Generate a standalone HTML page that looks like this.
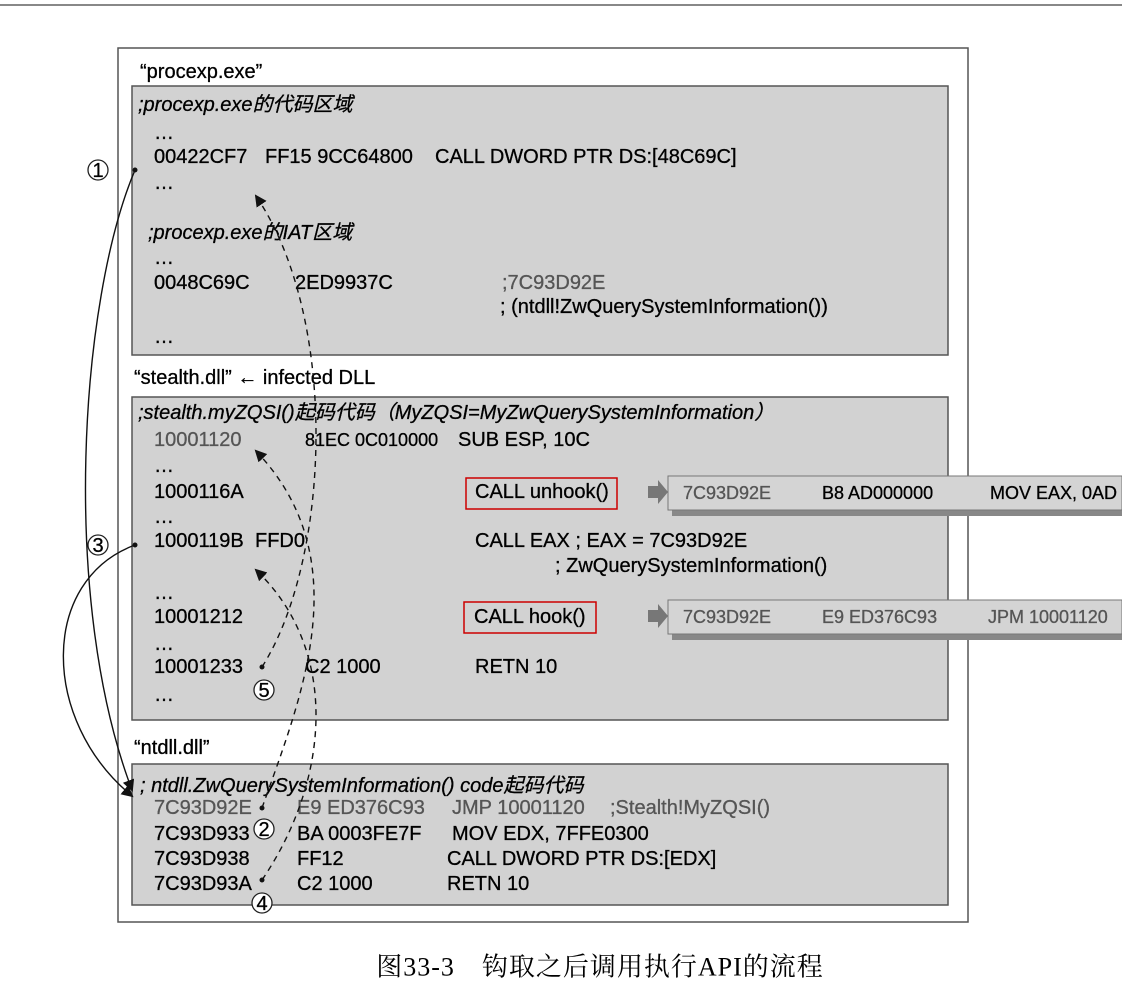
<!DOCTYPE html>
<html><head><meta charset="utf-8"><style>
html,body{margin:0;padding:0;background:#fff;}
svg{display:block;}
text{font-family:"Liberation Sans Narrow","Liberation Sans","Noto Sans CJK SC",sans-serif;font-size:20px;fill:#000;dominant-baseline:central;stroke:#000;stroke-width:0.3;}
.g{fill:#555;stroke:#555;}
.i{font-style:italic;}
.s{font-size:18px;}
</style></head><body>
<svg width="1122" height="1000" viewBox="0 0 1122 1000" xmlns="http://www.w3.org/2000/svg">
<defs>
<marker id="ah" markerWidth="12" markerHeight="12" refX="10" refY="6" orient="auto" markerUnits="userSpaceOnUse"><path d="M0,0 L12,6 L0,12 z" fill="#111"/></marker>
</defs>
<line x1="0" y1="5" x2="1122" y2="5" stroke="#888" stroke-width="2"/>
<rect x="118" y="48" width="850" height="874" fill="#fff" stroke="#555" stroke-width="1.5"/>
<rect x="132" y="86" width="816" height="269" fill="#d2d2d2" stroke="#555" stroke-width="1.5"/>
<rect x="132" y="397" width="816" height="323" fill="#d2d2d2" stroke="#555" stroke-width="1.5"/>
<rect x="132" y="764" width="816" height="141" fill="#d2d2d2" stroke="#555" stroke-width="1.5"/>
<rect x="672" y="480" width="450" height="36" fill="#888"/>
<rect x="668" y="476" width="454" height="34" fill="#d4d4d4" stroke="#777"/>
<rect x="672" y="604" width="450" height="36" fill="#888"/>
<rect x="668" y="600" width="454" height="34" fill="#d4d4d4" stroke="#777"/>
<path d="M648,486 h10 v-6 l10,12 l-10,12 v-6 h-10z" fill="#777"/>
<path d="M648,610 h10 v-6 l10,12 l-10,12 v-6 h-10z" fill="#777"/>
<rect x="466" y="478" width="151" height="31" fill="none" stroke="#c00" stroke-width="1.5"/>
<rect x="464" y="602" width="132" height="31" fill="none" stroke="#c00" stroke-width="1.5"/>

<text x="140" y="72">“procexp.exe”</text>
<text x="138" y="105" class="i">;procexp.exe的代码区域</text>
<text x="154" y="133">…</text>
<text x="154" y="157">00422CF7</text><text x="265" y="157">FF15 9CC64800</text><text x="435" y="157">CALL DWORD PTR DS:[48C69C]</text>
<text x="154" y="183">…</text>
<text x="148" y="233" class="i">;procexp.exe的IAT区域</text>
<text x="154" y="258">…</text>
<text x="154" y="283">0048C69C</text><text x="295" y="283">2ED9937C</text><text x="502" y="283" class="g">;7C93D92E</text>
<text x="500" y="307">; (ntdll!ZwQuerySystemInformation())</text>
<text x="154" y="337">…</text>

<text x="134" y="378">“stealth.dll” ← infected DLL</text>
<text x="138" y="413" class="i">;stealth.myZQSI()起码代码（MyZQSI=MyZwQuerySystemInformation）</text>
<text x="154" y="440" class="g">10001120</text><text x="305" y="440" class="s">81EC 0C010000</text><text x="458" y="440">SUB ESP, 10C</text>
<text x="154" y="466">…</text>
<text x="154" y="492">1000116A</text><text x="475" y="492">CALL unhook()</text>
<text x="154" y="517">…</text>
<text x="154" y="541">1000119B</text><text x="255" y="541">FFD0</text><text x="475" y="541">CALL EAX ; EAX = 7C93D92E</text>
<text x="555" y="566">; ZwQuerySystemInformation()</text>
<text x="154" y="593">…</text>
<text x="154" y="617">10001212</text><text x="474" y="617">CALL hook()</text>
<text x="154" y="644">…</text>
<text x="154" y="667">10001233</text><text x="305" y="667">C2 1000</text><text x="475" y="667">RETN 10</text>
<text x="154" y="695">…</text>

<text x="683" y="493" class="g s">7C93D92E</text><text x="822" y="493" class="s">B8 AD000000</text><text x="990" y="493" class="s">MOV EAX, 0AD</text>
<text x="683" y="617" class="g s">7C93D92E</text><text x="822" y="617" class="g s">E9 ED376C93</text><text x="988" y="617" class="g s">JPM 10001120</text>

<text x="134" y="748">“ntdll.dll”</text>
<text x="140" y="786" class="i">; ntdll.ZwQuerySystemInformation() code起码代码</text>
<text x="154" y="808" class="g">7C93D92E</text><text x="297" y="808" class="g">E9 ED376C93</text><text x="452" y="808" class="g">JMP 10001120</text><text x="610" y="808" class="g">;Stealth!MyZQSI()</text>
<text x="154" y="834">7C93D933</text><text x="297" y="834">BA 0003FE7F</text><text x="452" y="834">MOV EDX, 7FFE0300</text>
<text x="154" y="859">7C93D938</text><text x="297" y="859">FF12</text><text x="447" y="859">CALL DWORD PTR DS:[EDX]</text>
<text x="154" y="884">7C93D93A</text><text x="297" y="884">C2 1000</text><text x="447" y="884">RETN 10</text>

<g fill="#fff" stroke="#222" stroke-width="1.3">
<circle cx="98" cy="170" r="10"/><circle cx="98" cy="545" r="10"/><circle cx="264" cy="690" r="10"/><circle cx="264" cy="829" r="10"/><circle cx="262" cy="903" r="10"/>
</g>
<g style="font-size:15px" text-anchor="middle">
<text x="98" y="171">1</text><text x="98" y="546">3</text><text x="264" y="691">5</text><text x="264" y="830">2</text><text x="262" y="904">4</text>
</g>
<g fill="#111"><circle cx="135" cy="170" r="2.5"/><circle cx="135" cy="545" r="2.5"/><circle cx="262" cy="667" r="2.5"/><circle cx="262" cy="808" r="2.5"/><circle cx="262" cy="880" r="2.5"/></g>
<path d="M135,170 C80,300 60,600 132,790" fill="none" stroke="#111" stroke-width="1.4" marker-end="url(#ah)"/>
<path d="M135,545 C40,580 40,720 132,796" fill="none" stroke="#111" stroke-width="1.4" marker-end="url(#ah)"/>
<path d="M262,667 C330,560 340,320 256,196" fill="none" stroke="#111" stroke-width="1.4" stroke-dasharray="6,5" marker-end="url(#ah)"/>
<path d="M262,808 C300,700 360,560 256,451" fill="none" stroke="#111" stroke-width="1.4" stroke-dasharray="6,5" marker-end="url(#ah)"/>
<path d="M262,880 C330,780 340,650 256,570" fill="none" stroke="#111" stroke-width="1.4" stroke-dasharray="6,5" marker-end="url(#ah)"/>

<text x="600" y="967" text-anchor="middle" style="font-family:'Liberation Serif','Noto Serif CJK SC',serif;font-size:26px;letter-spacing:1px;stroke-width:0">图33-3　钩取之后调用执行API的流程</text>
</svg>
</body></html>
